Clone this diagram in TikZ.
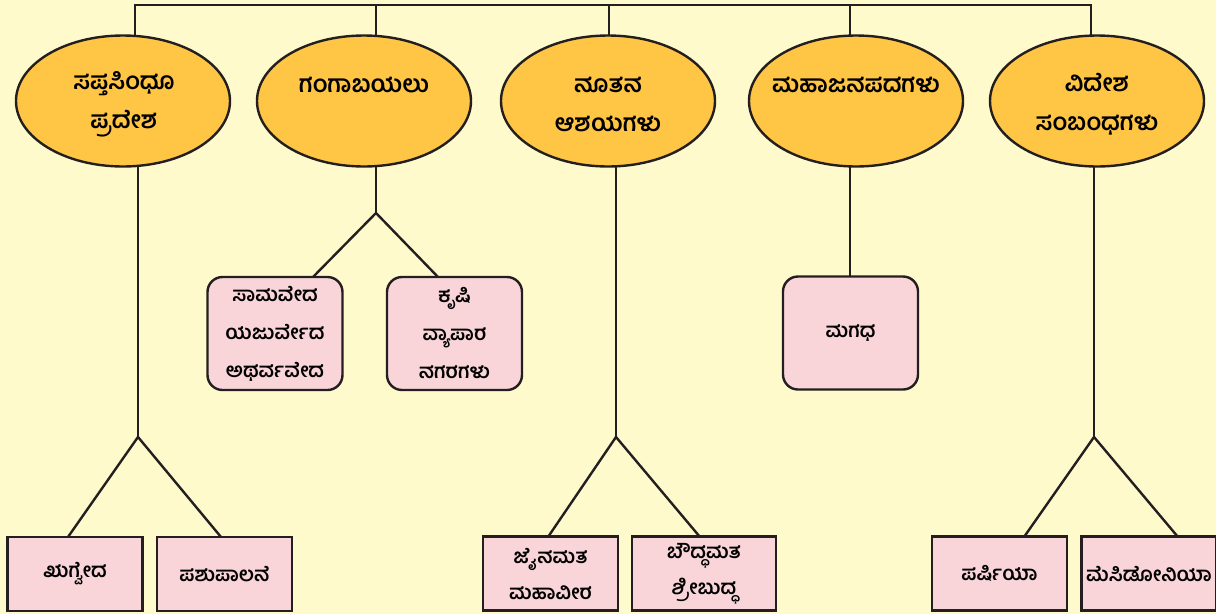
\documentclass[tikz,border=0pt]{standalone}
\usepackage{fontspec}
\newfontfamily\kn[Script=Kannada]{Hind Mysuru}
\usetikzlibrary{shapes.geometric}
\definecolor{bgc}{HTML}{FFFACB}
\definecolor{ell}{HTML}{FFC545}
\definecolor{boxc}{HTML}{F9D5DA}
\definecolor{ln}{HTML}{231F20}
\pgfdeclarelayer{paper}
\pgfdeclarelayer{back}
\pgfsetlayers{paper,back,main}
\begin{document}
\begin{tikzpicture}[x=1pt,y=-1pt,
  conn/.style={draw=ln, line width=2.4pt},
  topic/.style={ellipse, draw=ln, line width=2.4pt, fill=ell, minimum width=214pt, minimum height=131pt, inner sep=0pt},
  ttext/.style={inner sep=0pt, align=center, font=\kn\bfseries\fontsize{24}{39}\selectfont},
  rbox/.style={rectangle, rounded corners=15pt, draw=ln, line width=2.4pt, fill=boxc, minimum width=135pt, minimum height=113pt, inner sep=0pt, align=center, font=\kn\bfseries\fontsize{20}{38}\selectfont},
  sbox/.style={rectangle, draw=ln, line width=2.4pt, fill=boxc, minimum width=135pt, minimum height=74pt, inner sep=0pt, align=center, font=\kn\bfseries\fontsize{20}{36}\selectfont}]
\begin{pgfonlayer}{paper}
\fill[bgc] (0,0) rectangle (1216,614);
\end{pgfonlayer}
\useasboundingbox (0,0) rectangle (1216,614);

% ellipses
\node[topic] (e1) at (123,101) {};
\node[topic] (e2) at (364,101) {};
\node[topic] (e3) at (608,101) {};
\node[topic] (e4) at (856,101) {};
\node[topic] (e5) at (1097,101) {};
\node[ttext] (t1) at (124,104.5) {ಸಪ್ತಸಿಂಧೂ\\ಪ್ರದೇಶ};
\node[ttext] (t2) at (364,85) {ಗಂಗಾಬಯಲು};
\node[ttext] (t3) at (608,104.5) {ನೂತನ\\ಆಶಯಗಳು};
\node[ttext] (t4) at (856,85) {ಮಹಾಜನಪದಗಳು};
\node[ttext] (t5) at (1097,104.5) {ವಿದೇಶ\\ಸಂಬಂಧಗಳು};

% rounded boxes
\node[rbox] (v1) at (275,333.5) {ಸಾಮವೇದ\\ಯಜುರ್ವೇದ\\ಅಥರ್ವವೇದ};
\node[rbox] (v2) at (454.5,333.5) {ಕೃಷಿ\\ವ್ಯಾಪಾರ\\ನಗರಗಳು};
\node[rbox] (m1) at (850.5,333) {ಮಗಧ};

% bottom boxes
\node[sbox] (l1) at (75,574) {ಋಗ್ವೇದ};
\node[sbox] (l2) at (224.5,574) {ಪಶುಪಾಲನೆ};
\node[sbox] (l3) at (550.5,573.5) {ಜೈನಮತ\\ಮಹಾವೀರ};
\node[sbox, minimum width=144pt] (l4) at (704,573.5) {ಬೌದ್ಧಮತ\\ಶ್ರೀಬುದ್ಧ};
\node[sbox] (l5) at (999.5,573.5) {ಪರ್ಷಿಯಾ};
\node[sbox] (l6) at (1149,573.5) {ಮೆಸಿಡೋನಿಯಾ};

% coordinates
\coordinate (ta) at (135,5);
\coordinate (tb) at (376,5);
\coordinate (tc) at (609,5);
\coordinate (td) at (850,5);
\coordinate (te) at (1091,5);
\coordinate (b1) at (138,437);
\coordinate (b2) at (376,213);
\coordinate (b3) at (616,437);
\coordinate (b4) at (850,300);
\coordinate (b5) at (1094,437);
\coordinate (f1) at (68,537);
\coordinate (f2) at (221,537);
\coordinate (f3) at (313,277);
\coordinate (f4) at (438,277);
\coordinate (f5) at (548,537);
\coordinate (f6) at (700,537);
\coordinate (f7) at (1024,537);
\coordinate (f8) at (1178,537);

\begin{pgfonlayer}{back}
\draw[conn] (ta |- e1.center) -- (ta) -- (te) -- (te |- e5.center);
\draw[conn] (tb) -- (tb |- e2.center);
\draw[conn] (tc) -- (tc |- e3.center);
\draw[conn] (td) -- (td |- e4.center);
\draw[conn] (b1 |- e1.center) -- (b1);
\draw[conn] (f1) -- (b1) -- (f2);
\draw[conn] (b2 |- e2.center) -- (b2);
\draw[conn] (f3) -- (b2) -- (f4);
\draw[conn] (b3 |- e3.center) -- (b3);
\draw[conn] (f5) -- (b3) -- (f6);
\draw[conn] (b4 |- e4.center) -- (b4);
\draw[conn] (b5 |- e5.center) -- (b5);
\draw[conn] (f7) -- (b5) -- (f8);
\end{pgfonlayer}
\end{tikzpicture}
\end{document}
